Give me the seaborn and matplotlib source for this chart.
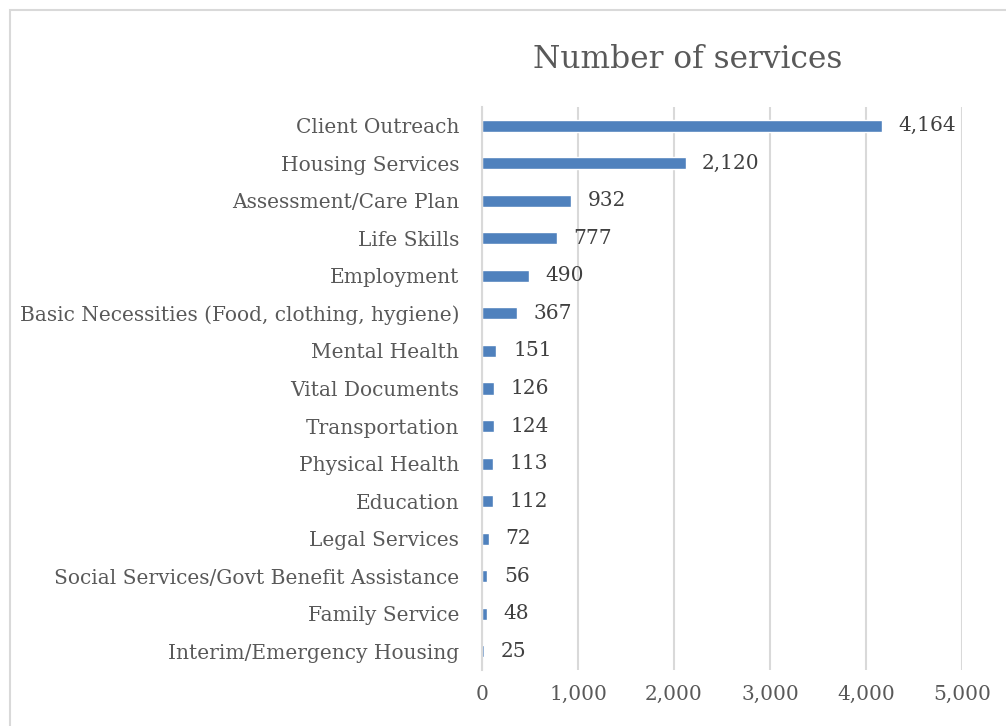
import matplotlib
matplotlib.use("Agg")
import matplotlib.pyplot as plt
import matplotlib.patches as mpatches
import seaborn as sns
import pandas as pd

categories = [
    "Client Outreach",
    "Housing Services",
    "Assessment/Care Plan",
    "Life Skills",
    "Employment",
    "Basic Necessities (Food, clothing, hygiene)",
    "Mental Health",
    "Vital Documents",
    "Transportation",
    "Physical Health",
    "Education",
    "Legal Services",
    "Social Services/Govt Benefit Assistance",
    "Family Service",
    "Interim/Emergency Housing",
]
services = [4164, 2120, 932, 777, 490, 367, 151, 126, 124, 113, 112, 72, 56, 48, 25]
x_ticks = [0, 1000, 2000, 3000, 4000, 5000]
title = "Number of services"

df = pd.DataFrame({"category": categories, "services": services})

sns.set_theme(style="white")
plt.rcParams["font.family"] = ["DejaVu Serif"]

W, H = 1006, 726
fig = plt.figure(figsize=(W / 100, H / 100), dpi=100)
ax = fig.add_axes([482 / W, 1 - 670 / H, (962 - 482) / W, (670 - 107) / H])

sns.barplot(data=df, x="services", y="category", orient="h",
            color="#4F81BD", saturation=1, width=0.32, ax=ax)

ax.set_xlim(0, 5000)
ax.set_xticks(x_ticks)
ax.set_xticklabels([f"{v:,}" for v in x_ticks])
ax.set_xlabel("")
ax.set_ylabel("")
ax.xaxis.grid(True, color="#d9d9d9", linewidth=1.5)
ax.set_axisbelow(True)
for s in ["top", "right", "bottom"]:
    ax.spines[s].set_visible(False)
ax.spines["left"].set_color("#d9d9d9")
ax.spines["left"].set_linewidth(1.5)
ax.tick_params(axis="both", length=0, colors="#595959", labelsize=14.5)
ax.tick_params(axis="y", pad=16.5)
ax.tick_params(axis="x", pad=11)

for c in ax.containers:
    ax.bar_label(c, labels=[f"{v:,}" for v in services], padding=12,
                 fontsize=14.5, color="#404040")

fig.text(688 / W, 1 - 60 / H, title, ha="center", va="center",
         fontsize=22.5, color="#595959")

border = mpatches.Rectangle((9.5 / W, -0.1), 2.0, (H - 9.5) / H + 0.1,
                            transform=fig.transFigure, fill=False,
                            edgecolor="#d9d9d9", linewidth=1.5, clip_on=False)
fig.add_artist(border)

fig.savefig("out.png", dpi=100, facecolor="white")
